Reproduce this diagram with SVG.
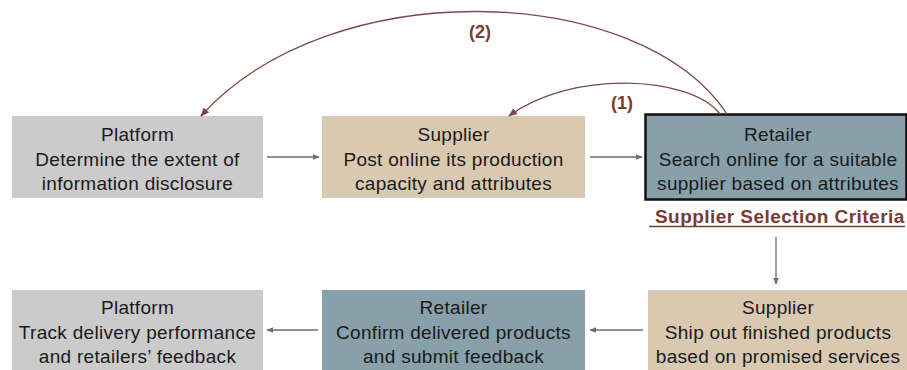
<svg xmlns="http://www.w3.org/2000/svg" width="907" height="370" viewBox="0 0 907 370">
  <style>
    .platform { fill: #cbcbcb; }
    .supplier { fill: #d8c9b0; }
    .retailer { fill: #87a0a9; }
    .label { font-family: "Liberation Sans", Arial, sans-serif; font-size: 19px; letter-spacing: 0.3px; fill: #1a1a1a; text-anchor: middle; }
    .flow { stroke: #6e6e6e; stroke-width: 1.3; fill: none; marker-end: url(#grayHead); }
    .loop { stroke: #7a4a40; stroke-width: 1.3; fill: none; marker-end: url(#brownHead); }
    .step { font-family: "Liberation Sans", Arial, sans-serif; font-size: 18px; font-weight: bold; fill: #7a3b30; text-anchor: middle; }
    .criteria { font-family: "Liberation Sans", Arial, sans-serif; font-size: 19px; letter-spacing: 0.45px; font-weight: bold; fill: #7a3b30; }
  </style>
  <defs>
    <marker id="grayHead" viewBox="0 0 10 10" refX="9" refY="5" markerWidth="7" markerHeight="7" markerUnits="userSpaceOnUse" orient="auto">
      <path d="M0,1 L10,5 L0,9 z" fill="#6e6e6e"/>
    </marker>
    <marker id="brownHead" viewBox="0 0 10 10" refX="9" refY="5" markerWidth="9" markerHeight="9" markerUnits="userSpaceOnUse" orient="auto">
      <path d="M0,1 L10,5 L0,9 z" fill="#7a4a40"/>
    </marker>
  </defs>

  <rect width="907" height="370" fill="#ffffff"/>

  <!-- top row -->
  <g id="platform-disclosure">
    <rect class="platform" x="12" y="116" width="251" height="82"/>
    <text class="label" x="137.5" y="141">Platform</text>
    <text class="label" x="137.5" y="166">Determine the extent of</text>
    <text class="label" x="137.5" y="190">information disclosure</text>
  </g>
  <g id="supplier-post">
    <rect class="supplier" x="322" y="116" width="263" height="82"/>
    <text class="label" x="453.5" y="141">Supplier</text>
    <text class="label" x="453.5" y="166">Post online its production</text>
    <text class="label" x="453.5" y="190">capacity and attributes</text>
  </g>
  <g id="retailer-search">
    <rect class="retailer" x="645.5" y="114.5" width="261" height="85" stroke="#111111" stroke-width="2.5"/>
    <text class="label" x="778" y="141">Retailer</text>
    <text class="label" x="778" y="166">Search online for a suitable</text>
    <text class="label" x="778" y="190">supplier based on attributes</text>
  </g>
  <g id="criteria">
    <text class="criteria" x="655" y="223">Supplier Selection Criteria</text>
    <line x1="649" y1="226.5" x2="905" y2="226.5" stroke="#7a3b30" stroke-width="1.3"/>
  </g>

  <!-- bottom row -->
  <g id="platform-track">
    <rect class="platform" x="12" y="290" width="251" height="80"/>
    <text class="label" x="137.5" y="314">Platform</text>
    <text class="label" x="137.5" y="339">Track delivery performance</text>
    <text class="label" x="137.5" y="363">and retailers’ feedback</text>
  </g>
  <g id="retailer-confirm">
    <rect class="retailer" x="322" y="290" width="263" height="80"/>
    <text class="label" x="453.5" y="314">Retailer</text>
    <text class="label" x="453.5" y="339">Confirm delivered products</text>
    <text class="label" x="453.5" y="363">and submit feedback</text>
  </g>
  <g id="supplier-ship">
    <rect class="supplier" x="648" y="290" width="259" height="80"/>
    <text class="label" x="778" y="314">Supplier</text>
    <text class="label" x="778" y="339">Ship out finished products</text>
    <text class="label" x="778" y="363">based on promised services</text>
  </g>

  <!-- connectors -->
  <g id="connectors">
    <line class="flow" x1="267" y1="157" x2="319" y2="157"/>
    <line class="flow" x1="590" y1="157" x2="642" y2="157"/>
    <line class="flow" x1="776" y1="237" x2="776" y2="284"/>
    <line class="flow" x1="643" y1="330" x2="590" y2="330"/>
    <line class="flow" x1="318" y1="330" x2="267" y2="330"/>
    <path class="loop" d="M727,114 C640,-18 330,-28 201,116"/>
    <path class="loop" d="M720,114 C690,75 570,70 509,116"/>
    <text class="step" x="480" y="38">(2)</text>
    <text class="step" x="622" y="109">(1)</text>
  </g>
</svg>
